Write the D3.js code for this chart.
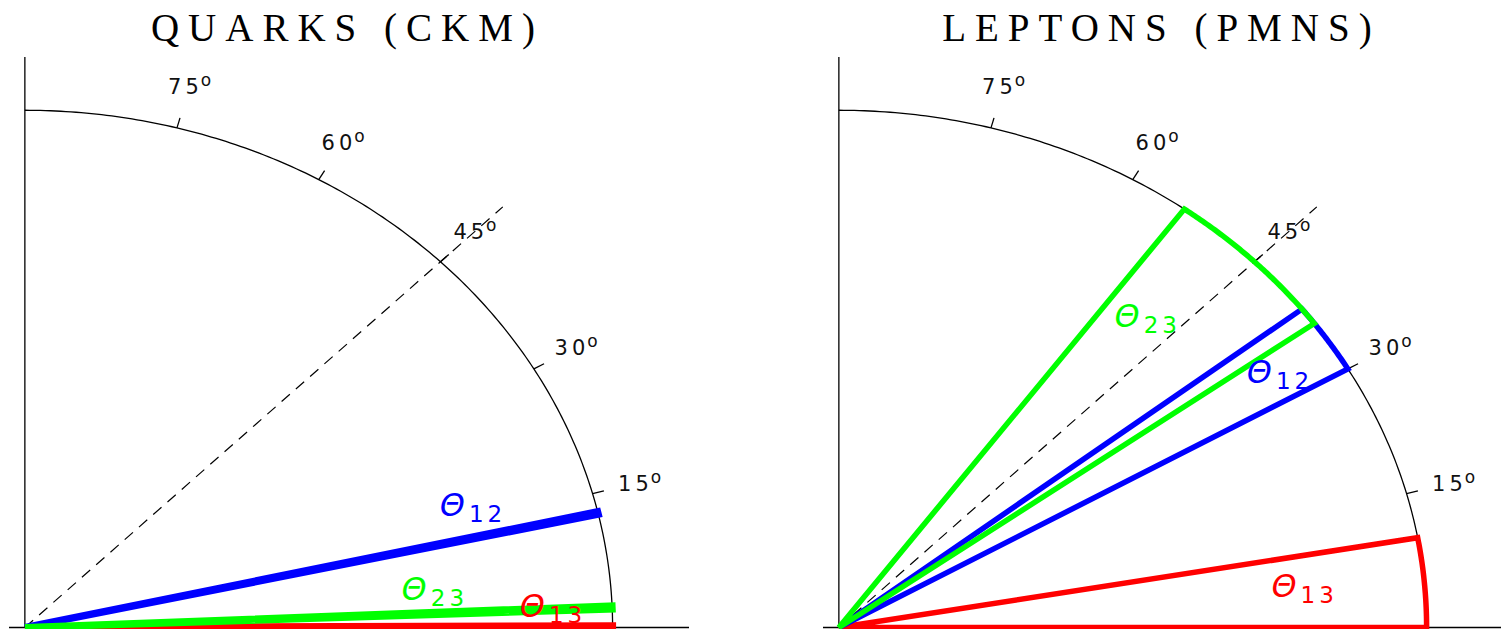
<!DOCTYPE html>
<html>
<head>
<meta charset="utf-8">
<script src="https://cdn.jsdelivr.net/npm/d3@7"></script>
<style>
  html, body { margin: 0; padding: 0; background: #fff; }
  svg { display: block; }
</style>
</head>
<body>
<svg id="chart" width="1501" height="629"></svg>
<script>
// ---- data ----
const panelTitles = ["QUARKS (CKM)", "LEPTONS (PMNS)"];
const angleSubscripts = ["12", "23", "13"];
const angleColors = ["#0000ff", "#00ff00", "#ff0000"];
// mixing-angle ranges in degrees, ordered like angleSubscripts
const ckmLow = [12.65, 2.05, 0.0];
const ckmHigh = [12.95, 2.40, 0.2];
const pmnsLow = [30, 36, 0];
const pmnsHigh = [38, 54, 10];
const tickAngles = [15, 30, 45, 60, 75];
const tickLabels = ["15", "30", "45", "60", "75"];

// ---- layout ----
const svg = d3.select("#chart");
const panels = [
  { title: panelTitles[0], low: ckmLow, high: ckmHigh, x0: 9, width: 7,
    labels: [[0.706, 0.216], [0.641, 0.053], [0.842, 0.0203]] },
  { title: panelTitles[1], low: pmnsLow, high: pmnsHigh, x0: 823, width: 5.5,
    labels: [[0.694, 0.473], [0.469, 0.581], [0.736, 0.059]] }
];
const xDomain = [-0.027, 1.13];
const yDomain = [0, 1.103];
const rad = d => d * Math.PI / 180;
const drawOrder = [2, 0, 1];

panels.forEach(p => {
  const x = d3.scaleLinear().domain(xDomain).range([p.x0, p.x0 + 680]);
  const y = d3.scaleLinear().domain(yDomain).range([627.5, 57]);
  const pt = (r, deg) => [x(r * Math.cos(rad(deg))), y(r * Math.sin(rad(deg)))];
  const line = d3.line();
  const g = svg.append("g");

  // axes
  g.append("line").attr("x1", x(xDomain[0])).attr("x2", x(xDomain[1]))
    .attr("y1", y(0)).attr("y2", y(0))
    .attr("stroke", "#000").attr("stroke-width", 1.3);
  g.append("line").attr("x1", x(0)).attr("x2", x(0))
    .attr("y1", y(0)).attr("y2", y(yDomain[1]))
    .attr("stroke", "#000").attr("stroke-width", 1.3);

  // unit arc
  const arcPts = d3.range(0, 90.01, 0.5).map(a => pt(1, a));
  g.append("path").attr("d", line(arcPts))
    .attr("fill", "none").attr("stroke", "#000").attr("stroke-width", 1.3);

  // 45 degree reference
  g.append("path").attr("d", line([pt(0, 45), pt(1.15, 45)]))
    .attr("fill", "none").attr("stroke", "#000").attr("stroke-width", 1.2)
    .attr("stroke-dasharray", "11,8");

  // ticks and labels
  tickAngles.forEach((a, i) => {
    g.append("path").attr("d", line([pt(1, a), pt(1.02, a)]))
      .attr("stroke", "#000").attr("stroke-width", 1.3);
    const [lx, ly] = pt(1.083, a);
    const t = g.append("text")
      .attr("x", lx + 2).attr("y", ly + 8)
      .attr("text-anchor", "middle")
      .attr("font-family", "DejaVu Sans")
      .attr("font-size", 21)
      .attr("letter-spacing", 4)
      .attr("fill", "#111");
    t.append("tspan").text(tickLabels[i]);
    t.append("tspan").attr("font-size", 17).attr("dy", -8).attr("dx", -2).text("o");
  });

  // angle wedges
  drawOrder.forEach(k => {
    const lo = p.low[k], hi = p.high[k];
    const steps = Math.max(2, Math.ceil((hi - lo) / 0.25));
    const rim = d3.range(steps + 1).map(j => pt(1, lo + (hi - lo) * j / steps));
    const pts = [pt(0, 0), ...rim];
    g.append("path").attr("d", line(pts) + "Z")
      .attr("fill", "none")
      .attr("stroke", angleColors[k])
      .attr("stroke-width", p.width)
      .attr("stroke-linejoin", "miter");
  });

  // angle labels
  angleSubscripts.forEach((s, k) => {
    const [dx, dy] = p.labels[k];
    const t = g.append("text")
      .attr("x", x(dx)).attr("y", y(dy))
      .attr("font-family", "DejaVu Sans")
      .attr("fill", angleColors[k]);
    t.append("tspan").attr("font-size", 32).attr("font-style", "italic").text("\u0398");
    t.append("tspan").attr("font-size", 23).attr("dx", 4).attr("dy", 6)
      .attr("letter-spacing", 4).text(s);
  });

  // title
  g.append("text")
    .attr("x", x(0.542) + 4).attr("y", 41)
    .attr("text-anchor", "middle")
    .attr("font-family", "Liberation Serif")
    .attr("font-size", 39)
    .attr("letter-spacing", 9)
    .attr("fill", "#000")
    .text(p.title);
});
</script>
</body>
</html>
